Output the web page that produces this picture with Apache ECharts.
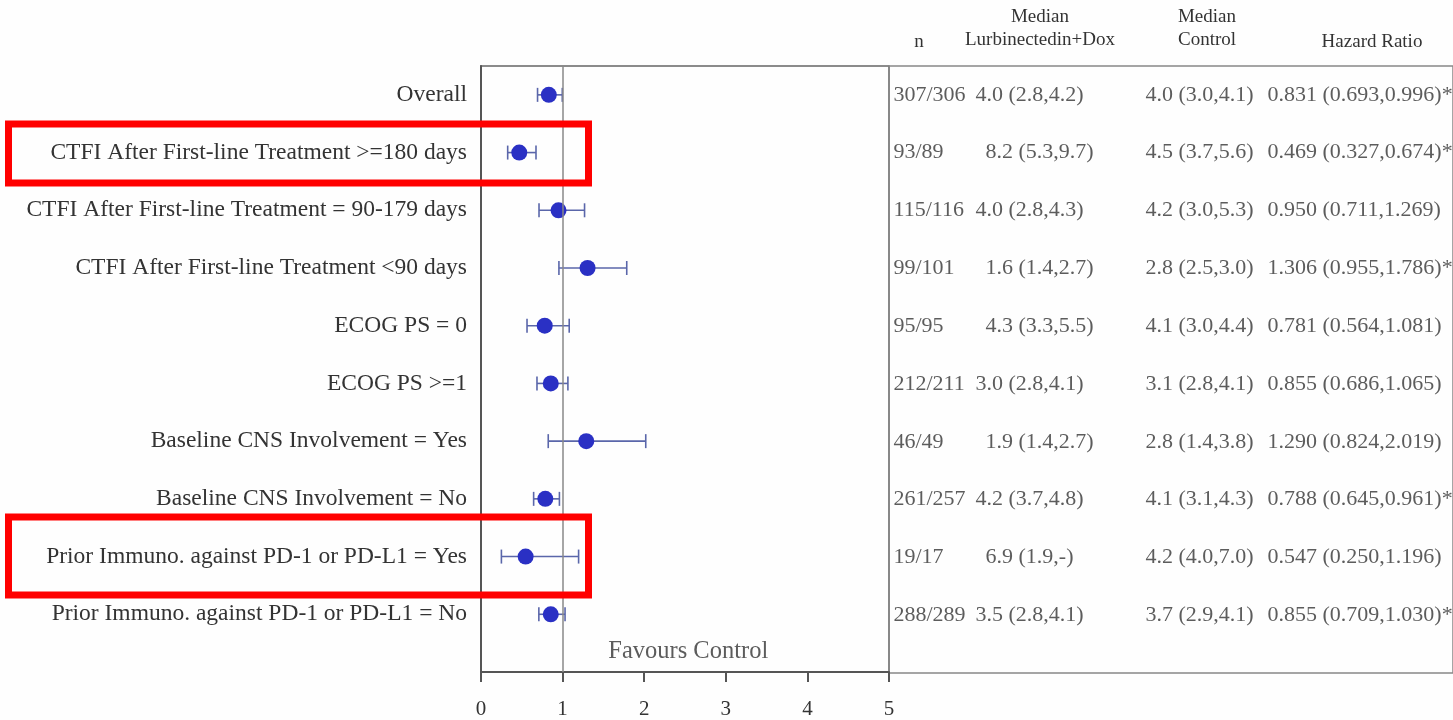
<!DOCTYPE html>
<html>
<head>
<meta charset="utf-8">
<script src="https://cdn.jsdelivr.net/npm/echarts@6/dist/echarts.min.js"></script>
<style>
    html, body { margin: 0; padding: 0; background: #fefefe; }
    #main { width: 1453px; height: 720px; }
</style>
</head>
<body>
<div id="main"></div>
<script>
var subgroups = [
    'Overall',
    'CTFI After First-line Treatment >=180 days',
    'CTFI After First-line Treatment = 90-179 days',
    'CTFI After First-line Treatment <90 days',
    'ECOG PS = 0',
    'ECOG PS >=1',
    'Baseline CNS Involvement = Yes',
    'Baseline CNS Involvement = No',
    'Prior Immuno. against PD-1 or PD-L1 = Yes',
    'Prior Immuno. against PD-1 or PD-L1 = No'
];
var hr = [0.831, 0.469, 0.950, 1.306, 0.781, 0.855, 1.290, 0.788, 0.547, 0.855];
var hrLower = [0.693, 0.327, 0.711, 0.955, 0.564, 0.686, 0.824, 0.645, 0.250, 0.709];
var hrUpper = [0.996, 0.674, 1.269, 1.786, 1.081, 1.065, 2.019, 0.961, 1.196, 1.030];
var nText = ['307/306', '93/89', '115/116', '99/101', '95/95', '212/211', '46/49', '261/257', '19/17', '288/289'];
var medianLurbi = ['4.0 (2.8,4.2)', '8.2 (5.3,9.7)', '4.0 (2.8,4.3)', '1.6 (1.4,2.7)', '4.3 (3.3,5.5)',
    '3.0 (2.8,4.1)', '1.9 (1.4,2.7)', '4.2 (3.7,4.8)', '6.9 (1.9,-)', '3.5 (2.8,4.1)'];
var medianControl = ['4.0 (3.0,4.1)', '4.5 (3.7,5.6)', '4.2 (3.0,5.3)', '2.8 (2.5,3.0)', '4.1 (3.0,4.4)',
    '3.1 (2.8,4.1)', '2.8 (1.4,3.8)', '4.1 (3.1,4.3)', '4.2 (4.0,7.0)', '3.7 (2.9,4.1)'];
var hrText = ['0.831 (0.693,0.996)*', '0.469 (0.327,0.674)*', '0.950 (0.711,1.269)', '1.306 (0.955,1.786)*',
    '0.781 (0.564,1.081)', '0.855 (0.686,1.065)', '1.290 (0.824,2.019)', '0.788 (0.645,0.961)*',
    '0.547 (0.250,1.196)', '0.855 (0.709,1.030)*'];
var xTicks = [0, 1, 2, 3, 4, 5];

var serif = "'Liberation Serif', 'DejaVu Serif', serif";
var textColor = '#333';

// each row sits on an odd step of the y axis (two steps per row)
function rowY(i) { return 2 * i + 1; }

var myChart = echarts.init(document.getElementById('main'));

// table column starts, in pixels from the divider at x = 5
var colN = 4, colLurbiLong = 86, colLurbiShort = 96, colControl = 256, colHR = 378;

function tableColumn(name, getX, texts) {
    return {
        name: name,
        type: 'scatter',
        xAxisIndex: 1,
        yAxisIndex: 1,
        symbolSize: 1,
        itemStyle: { color: 'rgba(0,0,0,0)' },
        silent: true,
        data: texts.map(function (t, i) { return [getX(i), rowY(i), t]; }),
        label: {
            show: true,
            position: 'right',
            distance: 0,
            fontFamily: serif,
            fontSize: 22,
            color: textColor,
            formatter: function (p) { return p.data[2]; }
        }
    };
}

function headerText(x, y, text) {
    return {
        type: 'text',
        x: x,
        y: y,
        style: {
            text: text,
            fontFamily: serif,
            fontSize: 19,
            fill: textColor,
            align: 'center',
            verticalAlign: 'middle'
        }
    };
}

function redBox(y, h) {
    return {
        type: 'rect',
        z: 100,
        shape: { x: 8.5, y: y, width: 580, height: h },
        style: { fill: 'none', stroke: '#ff0000', lineWidth: 7 }
    };
}

var option = {
    backgroundColor: '#fefefe',
    animation: false,
    grid: [
        { left: 481, top: 66, width: 408, height: 607, show: true, borderColor: '#666', borderWidth: 1.5 },
        { left: 889, top: 66, right: 0, height: 607, show: true, borderColor: '#888', borderWidth: 1.5 }
    ],
    xAxis: [
        {
            type: 'value',
            gridIndex: 0,
            position: 'bottom',
            min: xTicks[0],
            max: xTicks[xTicks.length - 1],
            interval: 1,
            axisLine: { show: true, onZero: false, lineStyle: { color: '#555', width: 2 } },
            axisTick: { show: true, length: 10, lineStyle: { color: '#555', width: 2 } },
            axisLabel: { fontFamily: serif, fontSize: 21, color: textColor, margin: 27 },
            splitLine: { show: false }
        },
        { type: 'value', gridIndex: 1, min: 0, max: 564, show: false }
    ],
    yAxis: [
        {
            type: 'value',
            gridIndex: 0,
            min: 0,
            max: 21,
            interval: 1,
            inverse: true,
            axisLine: { show: true, onZero: false, lineStyle: { color: '#555', width: 2 } },
            axisTick: { show: false },
            splitLine: { show: false },
            axisLabel: {
                fontFamily: serif,
                fontSize: 23.5,
                color: textColor,
                margin: 14,
                formatter: function (v) {
                    if (v % 2 === 1) return subgroups[(v - 1) / 2] || '';
                    return '';
                }
            }
        },
        { type: 'value', gridIndex: 1, min: 0, max: 21, inverse: true, show: false }
    ],
    graphic: [
        headerText(919, 42, 'n'),
        headerText(1040, 17, 'Median'),
        headerText(1040, 40, 'Lurbinectedin+Dox'),
        headerText(1207, 17, 'Median'),
        headerText(1207, 40, 'Control'),
        headerText(1372, 42, 'Hazard Ratio'),
        redBox(124, 59),
        redBox(517, 78)
    ],
    series: [
        {
            name: 'CI',
            type: 'custom',
            xAxisIndex: 0,
            yAxisIndex: 0,
            silent: true,
            data: hrLower.map(function (lo, i) { return [lo, hrUpper[i], rowY(i)]; }),
            encode: { x: [0, 1], y: 2 },
            renderItem: function (params, api) {
                var y = api.value(2);
                var p1 = api.coord([api.value(0), y]);
                var p2 = api.coord([api.value(1), y]);
                var cap = 7;
                var style = { stroke: '#5a66aa', lineWidth: 1.6 };
                return {
                    type: 'group',
                    children: [
                        { type: 'line', shape: { x1: p1[0], y1: p1[1], x2: p2[0], y2: p2[1] }, style: style },
                        { type: 'line', shape: { x1: p1[0], y1: p1[1] - cap, x2: p1[0], y2: p1[1] + cap }, style: style },
                        { type: 'line', shape: { x1: p2[0], y1: p2[1] - cap, x2: p2[0], y2: p2[1] + cap }, style: style }
                    ]
                };
            },
            z: 2
        },
        {
            name: 'Hazard Ratio',
            type: 'scatter',
            xAxisIndex: 0,
            yAxisIndex: 0,
            symbolSize: 16,
            itemStyle: { color: '#2a30c4', opacity: 1 },
            data: hr.map(function (v, i) { return [v, rowY(i)]; }),
            z: 3,
            markLine: {
                silent: true,
                symbol: 'none',
                label: { show: false },
                lineStyle: { color: '#888', width: 1.5, type: 'solid' },
                data: [{ xAxis: 1 }]
            }
        },
        {
            name: 'Favours',
            type: 'scatter',
            xAxisIndex: 0,
            yAxisIndex: 0,
            symbolSize: 1,
            itemStyle: { color: 'rgba(0,0,0,0)' },
            silent: true,
            data: [[2.54, 20.28]],
            label: {
                show: true,
                position: 'inside',
                fontFamily: serif,
                fontSize: 24.5,
                color: textColor,
                formatter: 'Favours Control'
            }
        },
        tableColumn('n', function () { return colN; }, nText),
        tableColumn('Median Lurbinectedin+Dox', function (i) {
            return nText[i].length >= 7 ? colLurbiLong : colLurbiShort;
        }, medianLurbi),
        tableColumn('Median Control', function () { return colControl; }, medianControl),
        tableColumn('Hazard Ratio text', function () { return colHR; }, hrText)
    ]
};

myChart.setOption(option);
</script>
</body>
</html>
